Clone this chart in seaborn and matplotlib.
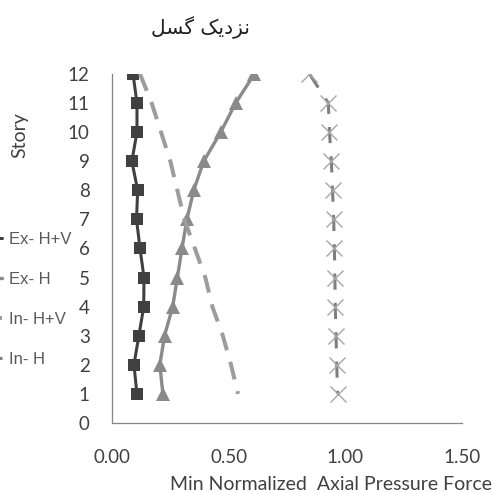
import matplotlib
matplotlib.use('Agg')
import matplotlib.pyplot as plt
import matplotlib.ticker as ticker
import seaborn as sns

# stories listed top-down so the dash patterns start at story 12, as in the reference
stories = [12, 11, 10, 9, 8, 7, 6, 5, 4, 3, 2, 1]
ex_hv = [0.09, 0.107, 0.107, 0.085, 0.11, 0.105, 0.12, 0.137, 0.136, 0.115, 0.094, 0.107]
ex_h = [0.61, 0.53, 0.466, 0.393, 0.35, 0.321, 0.30, 0.28, 0.26, 0.225, 0.205, 0.218]
in_hv = [0.12, 0.17, 0.21, 0.25, 0.28, 0.31, 0.355, 0.40, 0.43, 0.475, 0.51, 0.54]
in_h = [0.846, 0.927, 0.932, 0.94, 0.945, 0.95, 0.953, 0.955, 0.957, 0.96, 0.963, 0.967]

series_labels = ['Ex- H+V', 'Ex- H', 'In- H+V', 'In- H']
x_ticks = [0.0, 0.5, 1.0, 1.5]
y_ticks = list(range(0, 13))

# title "نزدیک گسل" written with Arabic presentation forms in visual order,
# because matplotlib does no bidi / joining of its own
title_text = '\uFEDE\uFEB4\uFB94 \uFB8F\uFBFE\uFEA9\uFEB0\uFEE7'
x_label = 'Min Normalized  Axial Pressure Force'
y_label = 'Story'

sns.set_style('white')
plt.rcParams['font.family'] = ['Lato', 'DejaVu Sans']

text_col = '#404040'
spine_col = '#868686'

fig = plt.figure(figsize=(4.93, 4.93), dpi=100)
ax = fig.add_axes([0.2272, 0.142, 0.7100, 0.708])

sns.lineplot(x=ex_hv, y=stories, sort=False, estimator=None, ax=ax,
             color='#404040', linewidth=2.2, marker='s', markersize=8,
             markeredgewidth=0, label=series_labels[0], legend=False)
sns.lineplot(x=ex_h, y=stories, sort=False, estimator=None, ax=ax,
             color='#8a8a8a', linewidth=2.4, marker='^', markersize=10,
             markeredgewidth=0, label=series_labels[1], legend=False)
sns.lineplot(x=in_hv, y=stories, sort=False, estimator=None, ax=ax,
             color='#9d9d9d', linewidth=2.9, linestyle=(0, (4.5, 3)),
             label=series_labels[2], legend=False)
sns.lineplot(x=in_h, y=stories, sort=False, estimator=None, ax=ax,
             color='#7f7f7f', linewidth=2.2, linestyle=(0, (5.3, 4.3)),
             marker='x', markersize=11, markeredgewidth=1.0,
             markeredgecolor='#a6a6a6', label=series_labels[3], legend=False)

ax.set_xlim(0, 1.5)
ax.set_ylim(0, 12)
ax.set_xticks(x_ticks)
ax.set_yticks(y_ticks)
ax.xaxis.set_major_formatter(ticker.FormatStrFormatter('%.2f'))

for side in ['top', 'right']:
    ax.spines[side].set_visible(False)
for side in ['left', 'bottom']:
    ax.spines[side].set_color(spine_col)
    ax.spines[side].set_linewidth(0.9)

ax.tick_params(axis='both', which='major', direction='out', length=5, width=0.9,
               color=spine_col, labelcolor=text_col, labelsize=13.5)
ax.tick_params(axis='y', pad=11)
ax.tick_params(axis='x', pad=14)
ax.grid(False)

ax.set_xlabel(x_label, fontsize=14, color=text_col, va='center')
ax.xaxis.set_label_coords(0.626, -0.175)
ax.set_ylabel(y_label, fontsize=14, color=text_col, va='center')
ax.yaxis.set_label_coords(-0.263, 0.825)

fig.text(200 / 493, 1 - 28 / 493, title_text, ha='center', va='center',
         fontsize=14.5, color='#202020', family=['DejaVu Sans'])

# legend sits mostly outside the figure: only the labels and a sliver of each handle show
handles, labels = ax.get_legend_handles_labels()
fig.legend(handles, labels, loc='upper left', bbox_to_anchor=(-0.094, 0.56),
           frameon=False, labelcolor='#595959', handlelength=2.0,
           handletextpad=0.4, borderpad=0.4, labelspacing=1.5,
           prop={'family': ['Liberation Sans', 'DejaVu Sans'], 'size': 12})

fig.savefig('out.png', dpi=100)
